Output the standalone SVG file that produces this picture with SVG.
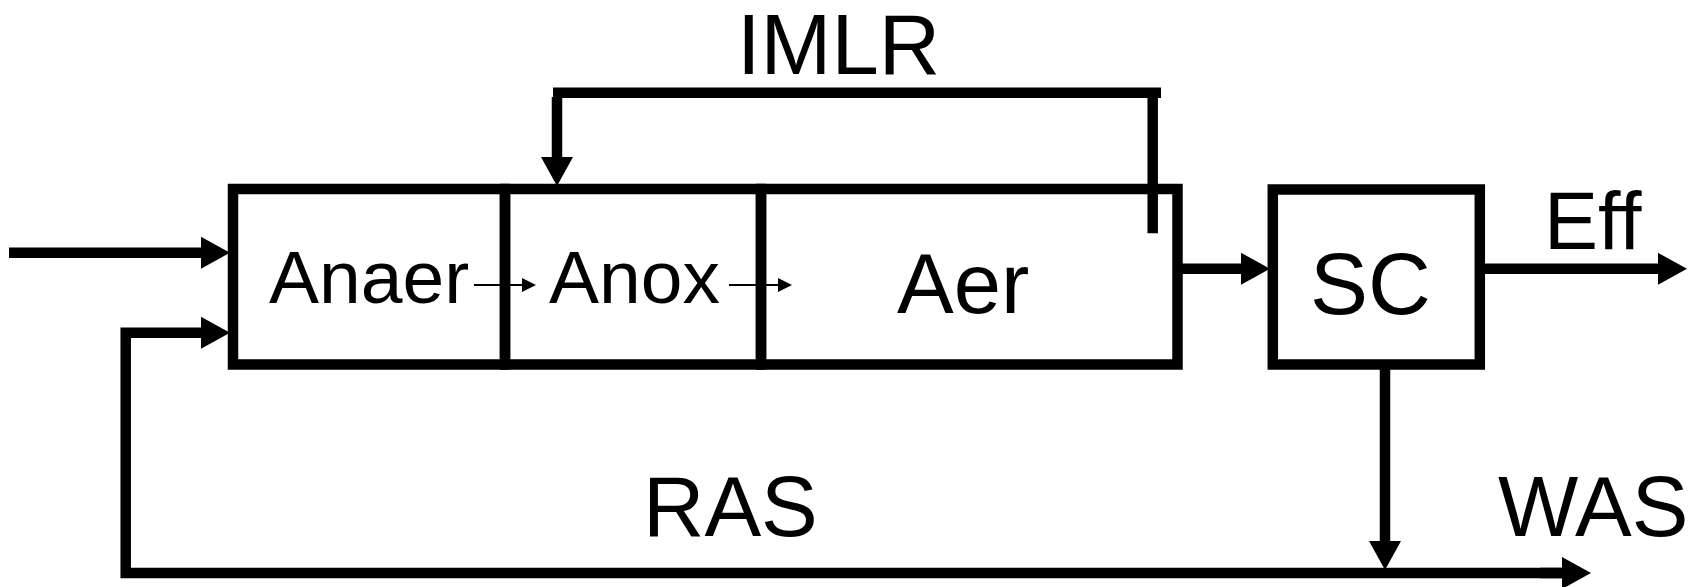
<svg xmlns="http://www.w3.org/2000/svg" width="1700" height="587" viewBox="0 0 1700 587">
<style>
.box{fill:none;stroke:#000;stroke-width:10.5}
.ln{fill:none;stroke:#000;stroke-width:10.5}
.thin{fill:none;stroke:#000;stroke-width:2}
text{font-family:"Liberation Sans",Arial,sans-serif;fill:#000}
.t75{font-size:75px}
.t85{font-size:85px}
</style>
<defs>
<marker id="ah" markerUnits="userSpaceOnUse" markerWidth="30" markerHeight="34" refX="0" refY="16" orient="auto" overflow="visible">
<path d="M0,0 L29,16 L0,32 Z" fill="#000"/>
</marker>
<marker id="ahs" markerUnits="userSpaceOnUse" markerWidth="16" markerHeight="16" refX="0" refY="7" orient="auto" overflow="visible">
<path d="M0,0 L14,7 L0,14 Z" fill="#000"/>
</marker>
</defs>
<rect x="0" y="0" width="1700" height="587" fill="#fff"/>
<g id="anaer">
<rect class="box" x="233" y="189" width="272" height="175.5"/>
<text class="t75" x="269" y="302.7">Anaer</text>
</g>
<g id="anox">
<rect class="box" x="505" y="189" width="256" height="175.5"/>
<text class="t75" x="549" y="302.5">Anox</text>
</g>
<g id="aer">
<rect class="box" x="761" y="189" width="416.5" height="175.5"/>
<text class="t85" x="897" y="313">Aer</text>
</g>
<g id="sc">
<rect class="box" x="1272.8" y="189.5" width="207" height="175"/>
<text x="1310" y="314" style="font-size:87px">SC</text>
</g>
<g id="connectors">
<path class="ln" d="M9,252.7 H201" marker-end="url(#ah)"/>
<path class="ln" d="M1562,573 H125.7 V332.8 H201" marker-end="url(#ah)"/>
<path class="ln" d="M1540,573 H1562" marker-end="url(#ah)"/>
<path class="thin" d="M474,285 H522" marker-end="url(#ahs)"/>
<path class="thin" d="M729,285 H778" marker-end="url(#ahs)"/>
<path class="ln" d="M553,92.8 H1161"/>
<path class="ln" d="M557,97 V157" marker-end="url(#ah)"/>
<path class="ln" d="M1152.7,97 V233.3"/>
<path class="ln" d="M1177.5,268.7 H1241" marker-end="url(#ah)"/>
<path class="ln" d="M1479.7,268.8 H1658" marker-end="url(#ah)"/>
<path class="ln" d="M1385,364.5 V541" marker-end="url(#ah)"/>
<text class="t85" x="737" y="73.7">IMLR</text>
<text class="t85" x="643" y="535.6">RAS</text>
<text class="t85" x="1498" y="535.6">WAS</text>
<text x="1544" y="249.3" style="font-size:81px">Eff</text>
</g>
</svg>
